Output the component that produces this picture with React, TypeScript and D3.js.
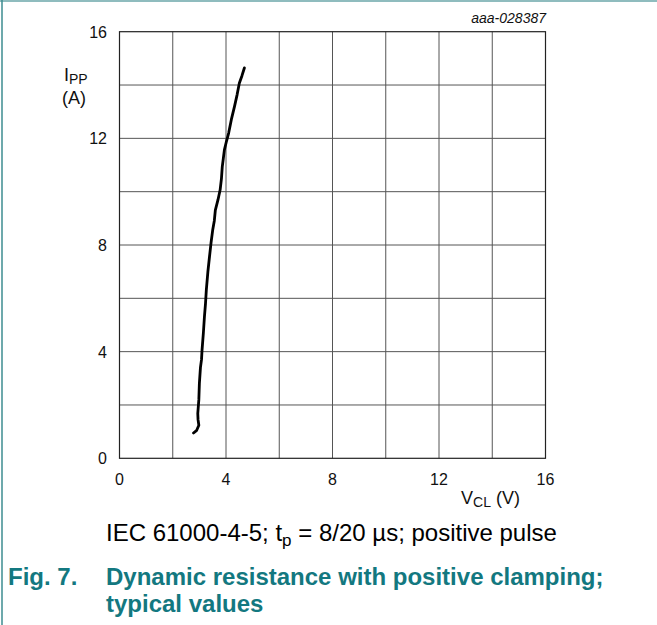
import React from "react";
import * as d3 from "d3";

// curve: VCL (V) vs IPP (A)
const vcl = [2.78, 2.9, 2.98, 2.95, 2.94, 2.98, 3.0, 3.04, 3.08, 3.1, 3.15, 3.19, 3.23, 3.26, 3.32, 3.38, 3.44, 3.5, 3.56, 3.6, 3.7, 3.78, 3.83, 3.86, 3.9, 3.94, 4.02, 4.1, 4.2, 4.32, 4.42, 4.5, 4.6, 4.69];
const ipp = [0.95, 1.05, 1.24, 1.45, 1.68, 2.2, 2.8, 3.4, 3.7, 4.06, 4.7, 5.31, 5.8, 6.3, 7.0, 7.56, 8.1, 8.56, 8.9, 9.31, 9.7, 10.07, 10.5, 10.94, 11.25, 11.57, 11.9, 12.2, 12.7, 13.2, 13.65, 14.07, 14.35, 14.64];

const xTicks = [0, 4, 8, 12, 16];
const yTicks = [0, 4, 8, 12, 16];
const gridVals = [2, 4, 6, 8, 10, 12, 14];

const teal = "#137880";
const font = "'Liberation Sans', Arial, sans-serif";

export default function App() {
  const left = 119.5, right = 545.5, top = 31.7, bottom = 458.3;
  const x = d3.scaleLinear().domain([0, 16]).range([left, right]);
  const y = d3.scaleLinear().domain([0, 16]).range([bottom, top]);

  const pts = vcl.map((v, i) => [v, ipp[i]] as [number, number]);
  const line = d3
    .line<[number, number]>()
    .x((d) => x(d[0]))
    .y((d) => y(d[1]));

  return (
    <div style={{ position: "absolute", left: 0, top: 0 }}>
      <svg width={657} height={625} style={{ display: "block" }} fontFamily={font}>
        <rect x={0} y={0} width={657} height={625} fill="#fff" />
        {/* page frame */}
        <line x1={0} y1={1} x2={657} y2={1} stroke="#6aa6a8" strokeWidth={1.5} />
        <line x1={2} y1={0} x2={2} y2={625} stroke="#3d8c90" strokeWidth={1.5} />

        {/* grid */}
        {gridVals.map((g) => (
          <line key={"v" + g} x1={x(g)} x2={x(g)} y1={top} y2={bottom} stroke="#555" strokeWidth={1} />
        ))}
        {gridVals.map((g) => (
          <line key={"h" + g} x1={left} x2={right} y1={y(g)} y2={y(g)} stroke="#555" strokeWidth={1} />
        ))}
        <rect x={left} y={top} width={right - left} height={bottom - top} fill="none" stroke="#222" strokeWidth={1.2} />

        {/* ticks */}
        {xTicks.map((t) => (
          <text key={"xt" + t} x={x(t)} y={485} textAnchor="middle" fontSize={16} fill="#111">
            {t}
          </text>
        ))}
        {yTicks.map((t) => (
          <text key={"yt" + t} x={107} y={y(t) + 6} textAnchor="end" fontSize={16} fill="#111">
            {t}
          </text>
        ))}

        {/* axis labels */}
        <text x={64} y={81} fontSize={18} fill="#111">
          I<tspan fontSize={14} dy={3}>PP</tspan>
        </text>
        <text x={62} y={104} fontSize={18} fill="#111">(A)</text>
        <text x={461} y={504} fontSize={18} fill="#111">
          V<tspan fontSize={14} dy={3}>CL</tspan>
          <tspan dy={-3}> (V)</tspan>
        </text>
        <text x={546} y={23} textAnchor="end" fontSize={14} fontStyle="italic" fill="#111">
          aaa-028387
        </text>

        {/* curve */}
        <path d={line(pts) ?? ""} fill="none" stroke="#000" strokeWidth={2.8} strokeLinejoin="round" strokeLinecap="round" />

        {/* caption */}
        <text x={106} y={541} fontSize={24} fill="#000">
          IEC 61000-4-5; t<tspan fontSize={17} dy={5}>p</tspan>
          <tspan dy={-5}> = 8/20 µs; positive pulse</tspan>
        </text>
        <text x={8} y={585} fontSize={24} fontWeight="bold" fill={teal}>Fig. 7.</text>
        <text x={106} y={585} fontSize={24} fontWeight="bold" fill={teal}>
          Dynamic resistance with positive clamping;
        </text>
        <text x={106} y={612} fontSize={24} fontWeight="bold" fill={teal}>typical values</text>
      </svg>
    </div>
  );
}
